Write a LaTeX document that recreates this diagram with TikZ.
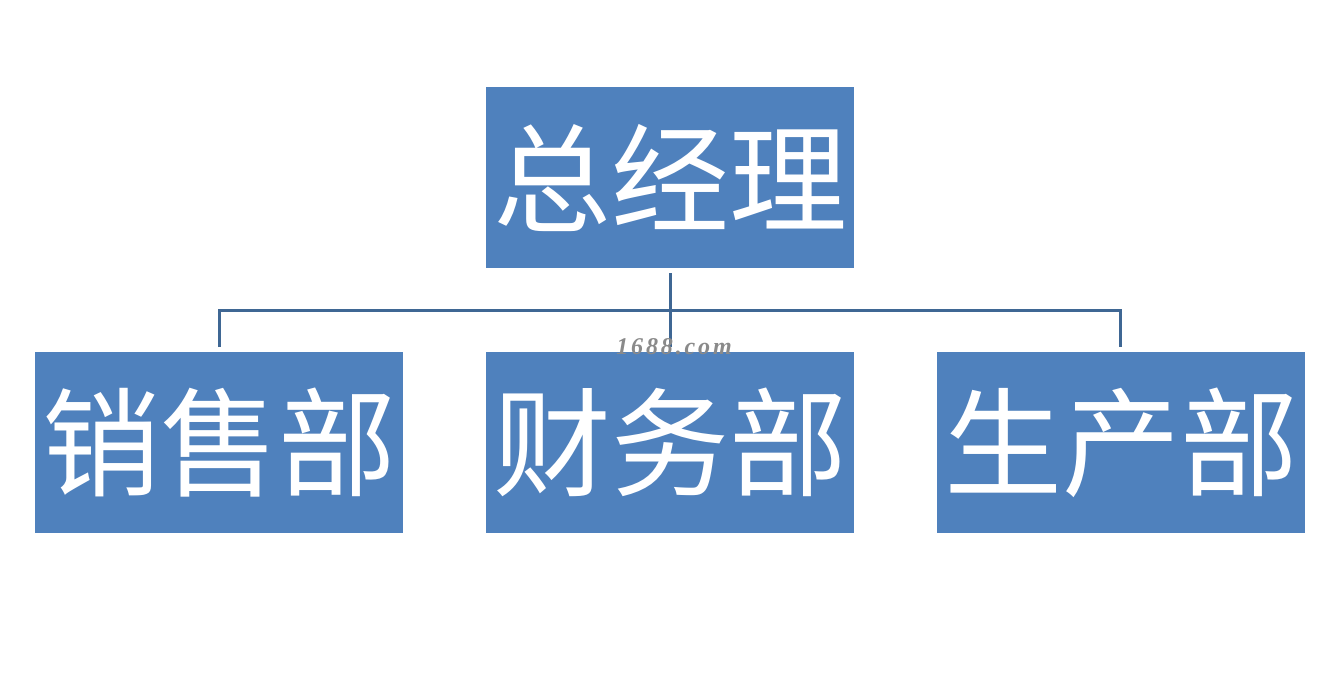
\documentclass[tikz,border=0pt]{standalone}
\usepackage{fontspec}
\setmainfont{Liberation Serif}
\newfontfamily\cjk{Noto Sans CJK SC}
\newfontfamily\wmfont[LetterSpace=12]{Liberation Serif}
\definecolor{boxblue}{HTML}{4F81BD}
\definecolor{linkblue}{HTML}{3F6794}
\definecolor{wmgray}{HTML}{8A8A8A}
\begin{document}
\begin{tikzpicture}[x=1pt,y=-1pt,
  orgbox/.style={fill=boxblue, draw=none, minimum width=368pt, minimum height=181pt, inner sep=0pt, text=white, font=\cjk\fontsize{118}{118}\selectfont, anchor=north west},
  link/.style={draw=linkblue, line width=3pt}]
\useasboundingbox (0,0) rectangle (1344,690);
\fill[white] (0,0) rectangle (1344,690);
\node[orgbox] (gm) at (486,87) {总经理};
\node[orgbox] (sales) at (35,352) {销售部};
\node[orgbox] (fin) at (486,352) {财务部};
\node[orgbox] (prod) at (937,352) {生产部};
\coordinate (gmlow) at (670,273);
\coordinate (busL) at (219,310);
\coordinate (busR) at (1120,310);
\coordinate (endL) at (219,347);
\coordinate (endM) at (670,347);
\coordinate (endR) at (1120,347);
\draw[link] (gmlow) -- (endM);
\draw[link, line join=miter] (endL) -- (busL) -- (busR) -- (endR);
\node[text=wmgray, font=\wmfont\bfseries\itshape\fontsize{24}{24}\selectfont] (wm) at (674,347) {1688.com};
\end{tikzpicture}
\end{document}
